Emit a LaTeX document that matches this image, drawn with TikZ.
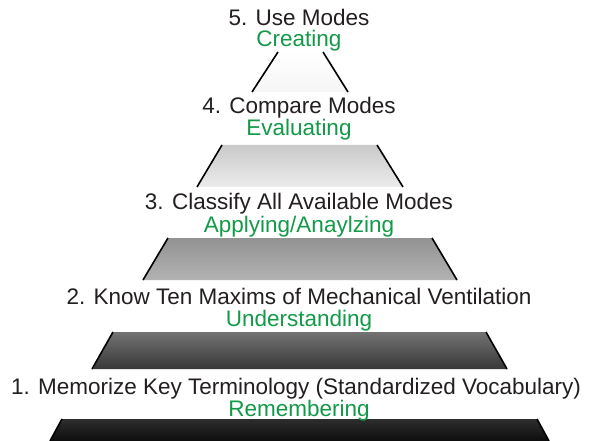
\documentclass[tikz,border=0pt]{standalone}
\usepackage{fontspec}
\setmainfont{Liberation Sans}
\definecolor{txtblack}{HTML}{231F20}
\definecolor{txtgreen}{HTML}{139A48}
\begin{document}
\begin{tikzpicture}[x=1pt,y=-1pt,
  lvltext/.style={anchor=base,inner sep=0pt,font=\fontsize{22.5}{24}\selectfont},
  maintext/.style={lvltext,text=txtblack},
  bloomtext/.style={lvltext,text=txtgreen},
  sideline/.style={draw=black,line width=1.6pt}]
\useasboundingbox (0,0) rectangle (592,441);
\fill[white] (0,0) rectangle (592,441);
% level 5
\shade[top color=white,bottom color=gray!8] (278,52) -- (323,52) -- (348,92) -- (252,92) -- cycle;
\draw[sideline] (278,52) -- (252,92) (323,52) -- (348,92);
% level 4
\shade[top color=gray!42,bottom color=gray!15] (222,145) -- (377,145) -- (403,187) -- (197,187) -- cycle;
\draw[sideline] (222,145) -- (197,187) (377,145) -- (403,187);
% level 3
\shade[top color=gray!85,bottom color=gray!60] (168,238) -- (432,238) -- (457,280) -- (143,280) -- cycle;
\draw[sideline] (168,238) -- (143,280) (432,238) -- (457,280);
% level 2
\shade[top color=black!55,bottom color=black!78] (113,332) -- (486,332) -- (507,369) -- (92,369) -- cycle;
\draw[sideline] (113,332) -- (92,369) (486,332) -- (507,369);
% level 1
\shade[top color=black!82,bottom color=black!95] (62,419) -- (537,419) -- (549,441) -- (50,441) -- cycle;
\draw[sideline] (62,419) -- (50,441) (537,419) -- (549,441);
% texts
\node[maintext] (t5) at (299,25.5) {5. Use Modes};
\node[bloomtext] (g5) at (299,47) {Creating};
\node[maintext] (t4) at (299,114) {4. Compare Modes};
\node[bloomtext] (g4) at (299,136) {Evaluating};
\node[maintext] (t3) at (299,210) {3. Classify All Available Modes};
\node[bloomtext] (g3) at (299,232) {Applying/Anaylzing};
\node[maintext] (t2) at (299,304.5) {2. Know Ten Maxims of Mechanical Ventilation};
\node[bloomtext] (g2) at (299,326) {Understanding};
\node[maintext] (t1) at (296,394.5) {1. Memorize Key Terminology (Standardized Vocabulary)};
\node[bloomtext] (g1) at (299,416) {Remembering};
\end{tikzpicture}
\end{document}
